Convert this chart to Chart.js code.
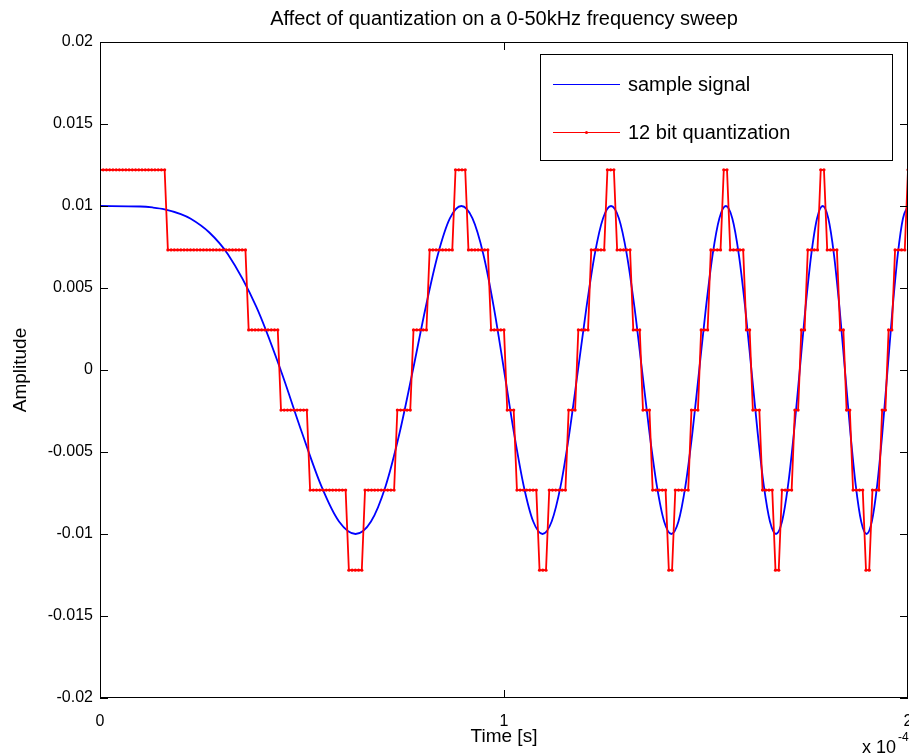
<!DOCTYPE html>
<html>
<head>
<meta charset="utf-8">
<title>Quantization of a frequency sweep</title>
<script src="https://cdn.jsdelivr.net/npm/chart.js@4.4.1/dist/chart.umd.min.js"></script>
<style>
  html, body { margin: 0; padding: 0; background: #fff; }
  #wrap { width: 909px; height: 756px; }
</style>
</head>
<body>
<div id="wrap"><canvas id="sweepChart" width="909" height="756"></canvas></div>
<script>
// Sweep signal, time in units of 1e-4 s
const sweepTime = [
    0, 0.1, 0.13, 0.16, 0.2, 0.2236, 0.27, 0.3162, 0.3873, 0.4472, 0.5, 0.5477, 0.5916, 0.6325, 0.6708,
    0.7071, 0.7416, 0.7746, 0.8062, 0.8367, 0.866, 0.8944, 0.922, 0.9487, 0.9747,
    1.0, 1.0247, 1.0488, 1.0724, 1.0954, 1.118, 1.1402, 1.1619, 1.1832, 1.2042,
    1.2247, 1.245, 1.2649, 1.2845, 1.3038, 1.3229, 1.3416, 1.3601, 1.3784, 1.3964,
    1.4142, 1.4318, 1.4491, 1.4663, 1.4832, 1.5, 1.5166, 1.533, 1.5492, 1.5652,
    1.5811, 1.5969, 1.6125, 1.6279, 1.6432, 1.6583, 1.6733, 1.6882, 1.7029, 1.7176,
    1.7321, 1.7464, 1.7607, 1.7748, 1.7889, 1.8028, 1.8166, 1.8303, 1.8439, 1.8574,
    1.8708, 1.8841, 1.8974, 1.9105, 1.9235, 1.9365, 1.9494, 1.9621, 1.9748, 1.9875, 2.0
];
const sweepAmp = [
    0.01, 0.00997, 0.00991, 0.0098, 0.00951,
    0.00924, 0.0084, 0.00707, 0.00383, 0, -0.00383, -0.00707, -0.00924,
    -0.01, -0.00924, -0.00707, -0.00383, 0, 0.00383, 0.00707, 0.00924,
    0.01, 0.00924, 0.00707, 0.00383, 0, -0.00383, -0.00707, -0.00924,
    -0.01, -0.00924, -0.00707, -0.00383, 0, 0.00383, 0.00707, 0.00924,
    0.01, 0.00924, 0.00707, 0.00383, 0, -0.00383, -0.00707, -0.00924,
    -0.01, -0.00924, -0.00707, -0.00383, 0, 0.00383, 0.00707, 0.00924,
    0.01, 0.00924, 0.00707, 0.00383, 0, -0.00383, -0.00707, -0.00924,
    -0.01, -0.00924, -0.00707, -0.00383, 0, 0.00383, 0.00707, 0.00924,
    0.01, 0.00924, 0.00707, 0.00383, 0, -0.00383, -0.00707, -0.00924,
    -0.01, -0.00924, -0.00707, -0.00383, 0, 0.00383, 0.00707, 0.00924,
    0.01
];

// 12 bit quantizer: output levels, and runs of consecutive samples at each level
const quantLevels = [0.012207, 0.007324, 0.002441, -0.002441, -0.007324, -0.012207];
const runLevel = [
    0, 1, 2, 3, 4, 5, 4, 3, 2, 1,
    0, 1, 2, 3, 4, 5, 4, 3, 2, 1,
    0, 1, 2, 3, 4, 5, 4, 3, 2, 1,
    0, 1, 2, 3, 4, 5, 4, 3, 2, 1,
    0, 1, 2, 3, 4, 5, 4, 3, 2, 1,
    0
];
const runLength = [
    21, 25, 10, 9, 12, 5, 10, 5, 5, 8,
    4, 7, 5, 3, 7, 3, 6, 3, 4, 5,
    3, 5, 3, 3, 5, 2, 5, 3, 3, 4,
    2, 5, 2, 3, 4, 2, 4, 2, 2, 4,
    2, 4, 2, 2, 4, 2, 3, 2, 2, 4,
    1
];
const samplePeriod = 0.008; // 0.8 us

const xTickLabels = ['0', '1', '2'];
const yTickLabels = ['-0.02', '-0.015', '-0.01', '-0.005', '0', '0.005', '0.01', '0.015', '0.02'];
const seriesLabels = ['sample signal', '12 bit quantization'];
const titleText = 'Affect of quantization on a 0-50kHz frequency sweep';

const FONT = "'Liberation Sans', Arial, Helvetica, sans-serif";
Chart.defaults.font.family = FONT;
Chart.defaults.font.size = 16;
Chart.defaults.color = '#000';

// Build point lists
const sweepPoints = sweepTime.map((t, i) => ({ x: t, y: sweepAmp[i] }));
const quantPoints = [];
let n = 0;
runLevel.forEach((lvl, i) => {
    for (let j = 0; j < runLength[i]; j++) {
        quantPoints.push({ x: n * samplePeriod, y: quantLevels[lvl] });
        n++;
    }
});

// Box around the axes with inward ticks on all four sides, plus the x10^-4 exponent
const axesBox = {
    id: 'axesBox',
    afterDatasetsDraw(chart) {
        const { ctx, chartArea: a, scales } = chart;
        const tick = 8;
        ctx.save();
        ctx.strokeStyle = '#000';
        ctx.lineWidth = 1;
        ctx.beginPath();
        ctx.rect(a.left + 0.5, a.top + 0.5, a.right - a.left - 1, a.bottom - a.top - 1);
        scales.x.ticks.forEach(t => {
            const px = Math.min(Math.round(scales.x.getPixelForValue(t.value)), a.right - 1) + 0.5;
            ctx.moveTo(px, a.bottom); ctx.lineTo(px, a.bottom - tick);
            ctx.moveTo(px, a.top); ctx.lineTo(px, a.top + tick);
        });
        scales.y.ticks.forEach(t => {
            const py = Math.round(scales.y.getPixelForValue(t.value)) + 0.5;
            ctx.moveTo(a.left, py); ctx.lineTo(a.left + tick, py);
            ctx.moveTo(a.right, py); ctx.lineTo(a.right - tick, py);
        });
        ctx.stroke();

        // exponent label under the right end of the x axis
        ctx.fillStyle = '#000';
        ctx.textBaseline = 'alphabetic';
        ctx.textAlign = 'left';
        ctx.font = '18px ' + FONT;
        ctx.fillText('x 10', 862, 753);
        ctx.font = '12px ' + FONT;
        ctx.fillText('-4', 898, 741);
        ctx.restore();
    }
};

// Legend box in the upper right of the axes
const boxLegend = {
    id: 'boxLegend',
    afterDraw(chart) {
        const { ctx, chartArea: a } = chart;
        const w = 353, h = 107;
        const left = a.right - 15 - w, top = a.top + 12;
        ctx.save();
        ctx.fillStyle = '#fff';
        ctx.fillRect(left, top, w, h);
        ctx.strokeStyle = '#000';
        ctx.lineWidth = 1;
        ctx.strokeRect(left + 0.5, top + 0.5, w - 1, h - 1);
        ctx.font = '20px ' + FONT;
        ctx.textBaseline = 'middle';
        ctx.textAlign = 'left';
        chart.data.datasets.forEach((ds, i) => {
            const y = top + 30 + i * 48 + 0.5;
            ctx.strokeStyle = ds.borderColor;
            ctx.lineWidth = 1;
            ctx.beginPath();
            ctx.moveTo(left + 13, y);
            ctx.lineTo(left + 80, y);
            ctx.stroke();
            if (ds.pointRadius > 0) {
                ctx.fillStyle = ds.pointBackgroundColor;
                ctx.beginPath();
                ctx.arc(left + 46.5, y, 1.5, 0, Math.PI * 2);
                ctx.fill();
            }
            ctx.fillStyle = '#000';
            ctx.fillText(ds.label, left + 88, y + 1);
        });
        ctx.restore();
    }
};

const ctx = document.getElementById('sweepChart').getContext('2d');
new Chart(ctx, {
    type: 'line',
    data: {
        datasets: [{
            label: seriesLabels[0],
            data: sweepPoints,
            borderColor: '#0000ff',
            borderWidth: 1.8,
            pointRadius: 0,
            cubicInterpolationMode: 'monotone',
            fill: false,
            order: 1
        }, {
            label: seriesLabels[1],
            data: quantPoints,
            borderColor: '#ff0000',
            borderWidth: 1.8,
            pointRadius: 1.6,
            pointBorderWidth: 0,
            pointBackgroundColor: '#ff0000',
            tension: 0,
            fill: false,
            order: 0
        }]
    },
    options: {
        responsive: false,
        animation: false,
        devicePixelRatio: 1,
        layout: { autoPadding: false, padding: { left: 0, right: 1, top: 0, bottom: 0 } },
        plugins: {
            legend: { display: false },
            tooltip: { enabled: false },
            title: {
                display: true,
                fullSize: false,
                text: titleText,
                color: '#000',
                font: { size: 20, weight: 'normal', lineHeight: 1.2 },
                padding: { top: 7, bottom: 11 }
            }
        },
        scales: {
            x: {
                type: 'linear',
                min: 0,
                max: 2,
                grid: { display: false, drawTicks: false },
                border: { display: false },
                ticks: {
                    stepSize: 1,
                    padding: 14,
                    maxRotation: 0,
                    callback: (v, i) => xTickLabels[i]
                },
                title: { display: true, text: 'Time [s]', font: { size: 19 }, padding: { top: 0, bottom: 8 } },
                afterFit(scale) {
                    scale.height = 58;
                    scale.paddingLeft = 0;
                    scale.paddingRight = 0;
                }
            },
            y: {
                min: -0.02,
                max: 0.02,
                grid: { display: false, drawTicks: false },
                border: { display: false },
                ticks: {
                    stepSize: 0.005,
                    padding: 7,
                    callback: (v, i) => yTickLabels[i]
                },
                title: { display: true, text: 'Amplitude', font: { size: 19 }, padding: { top: 9, bottom: 0 } },
                afterFit(scale) {
                    scale.width = 100;
                    scale.paddingTop = 0;
                    scale.paddingBottom = 0;
                }
            }
        }
    },
    plugins: [axesBox, boxLegend]
});
</script>
</body>
</html>
